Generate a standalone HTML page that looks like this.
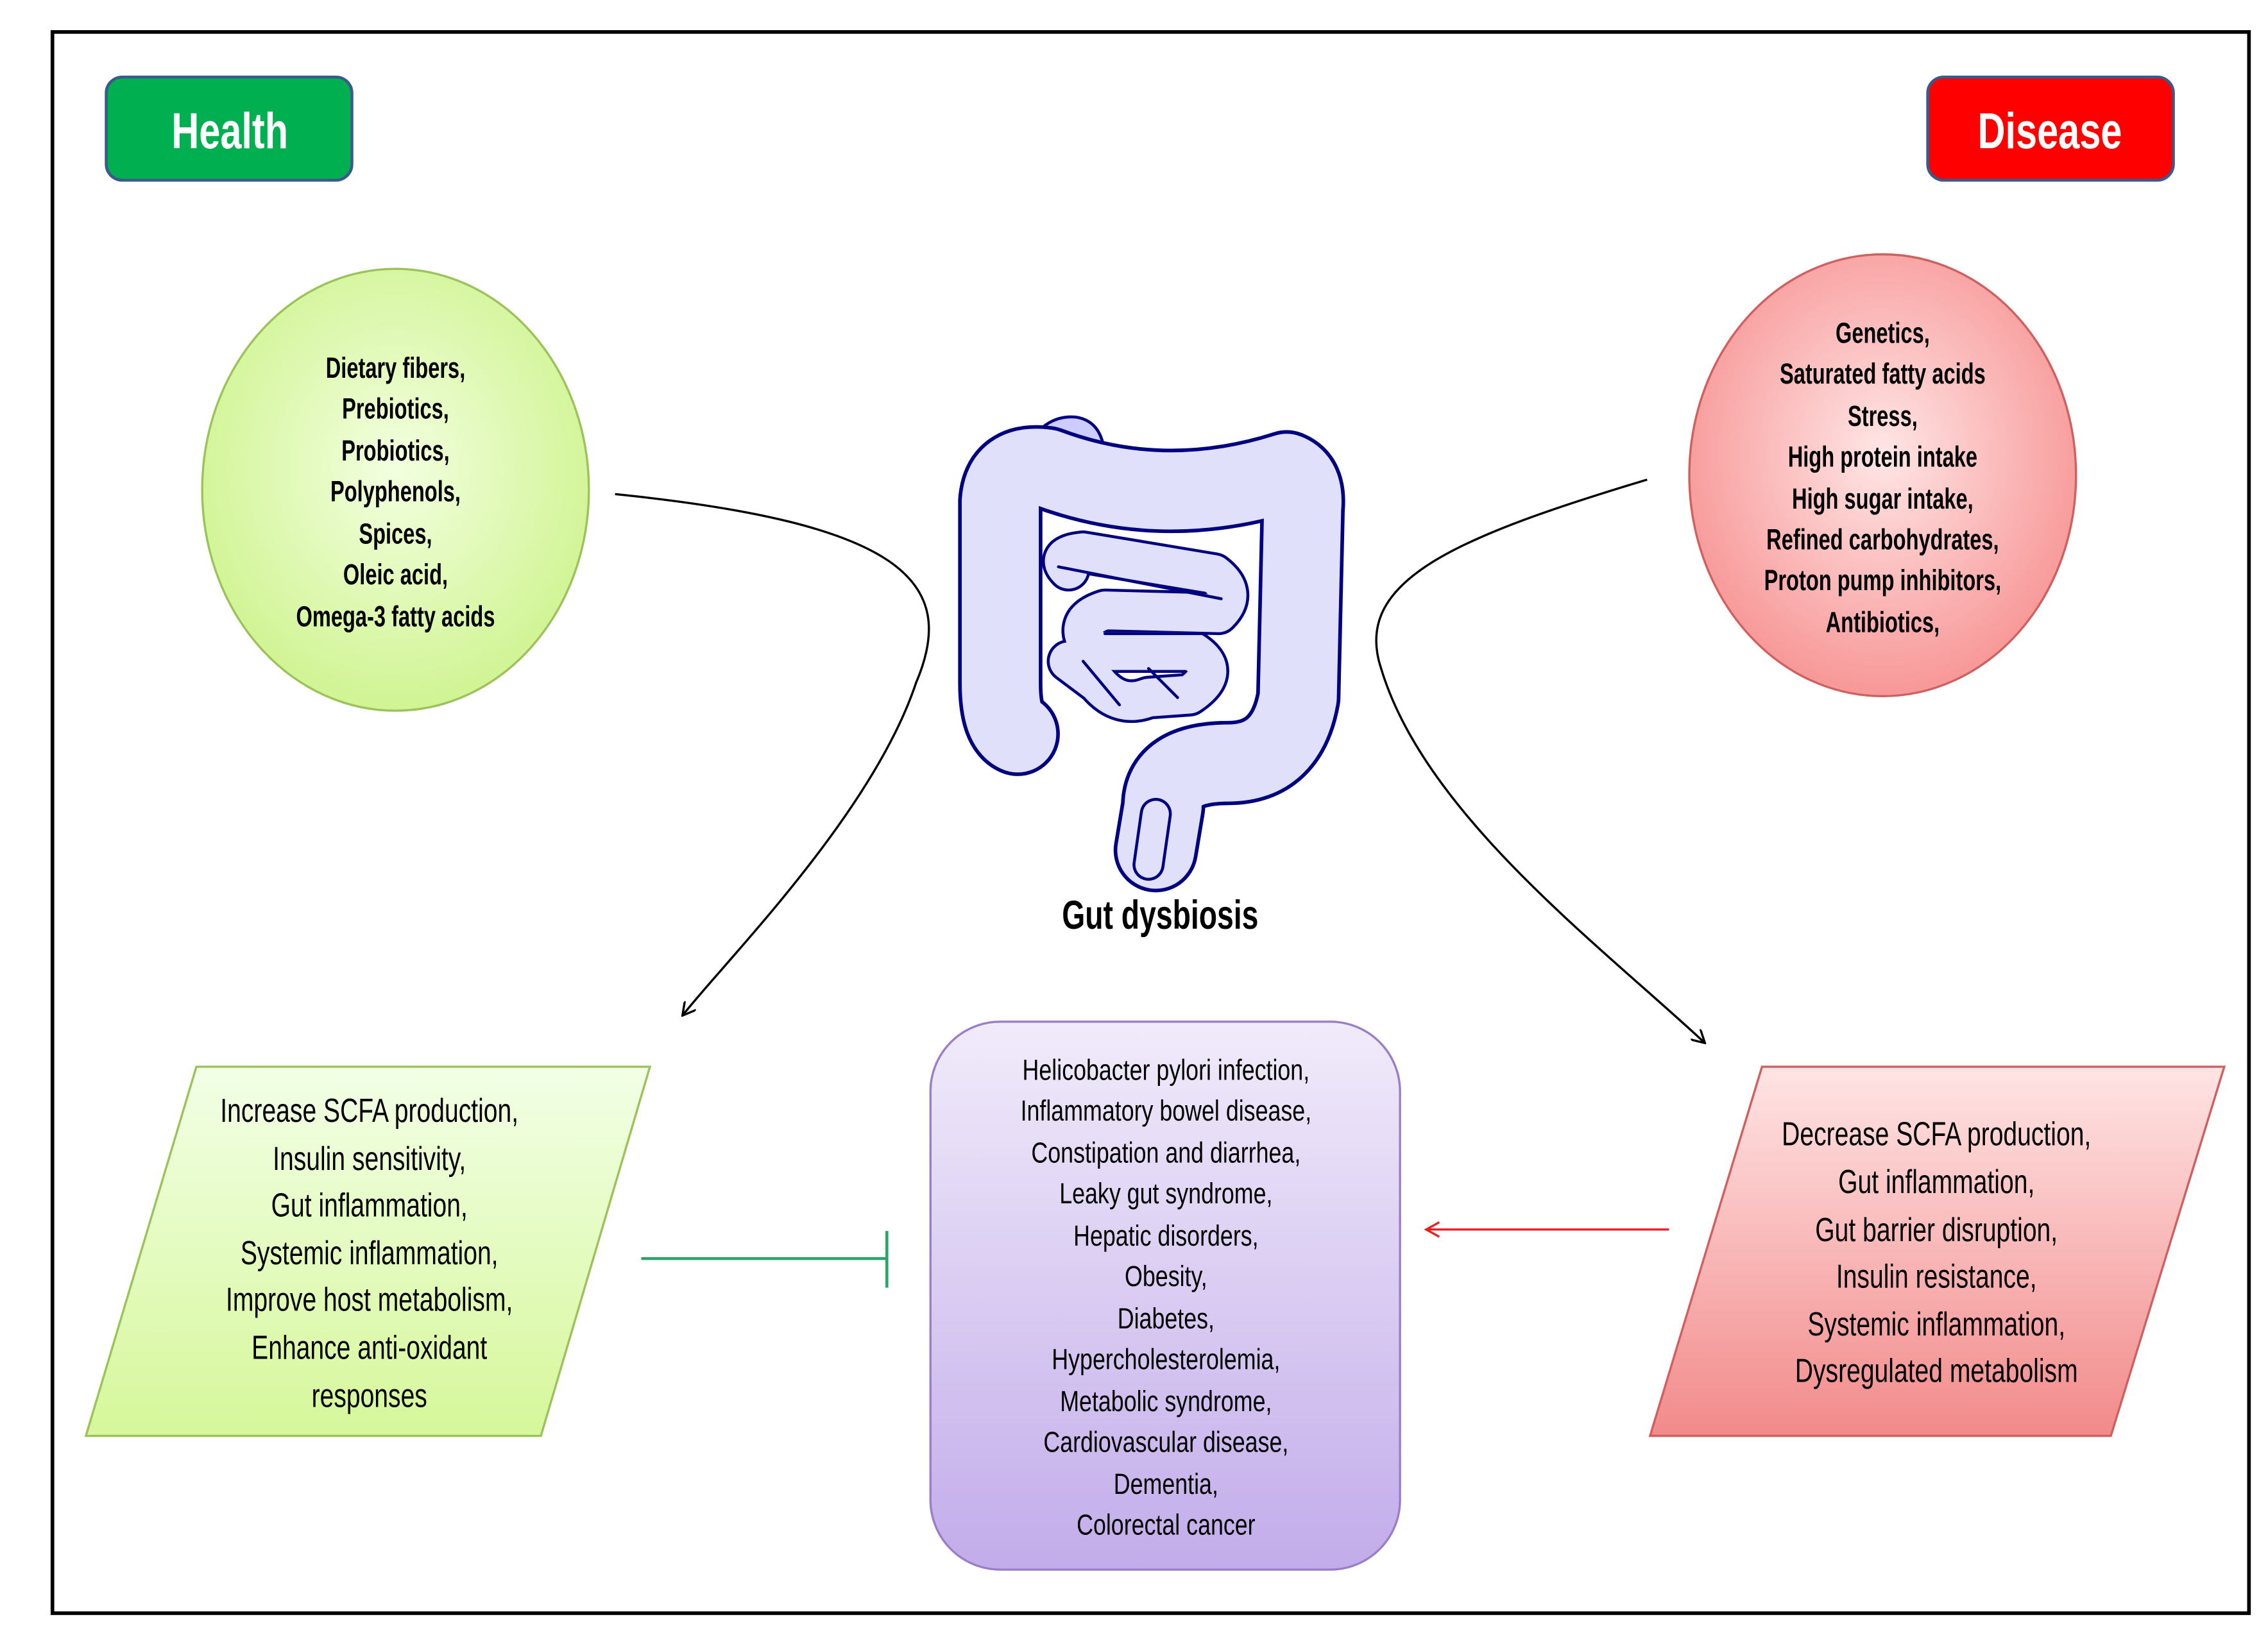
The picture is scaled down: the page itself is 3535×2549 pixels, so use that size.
<!DOCTYPE html>
<html><head><meta charset="utf-8"><style>
html,body{margin:0;padding:0;background:#fff;}
svg{display:block;}
text{font-family:"Liberation Sans Narrow","Liberation Sans",sans-serif;fill:#000;}
</style></head><body>
<svg width="3535" height="2549" viewBox="0 0 1560 1125" xmlns="http://www.w3.org/2000/svg">
<defs>
<radialGradient id="gEll" cx="50%" cy="45%" r="60%"><stop offset="0" stop-color="#f3ffe0"/><stop offset="1" stop-color="#cdf38c"/></radialGradient>
<radialGradient id="rEll" cx="50%" cy="45%" r="60%"><stop offset="0" stop-color="#ffe6e6"/><stop offset="1" stop-color="#f79090"/></radialGradient>
<linearGradient id="gPar" x1="0" y1="0" x2="0" y2="1"><stop offset="0" stop-color="#f2ffe6"/><stop offset="1" stop-color="#d6f79a"/></linearGradient>
<linearGradient id="rPar" x1="0" y1="0" x2="0" y2="1"><stop offset="0" stop-color="#ffe4e4"/><stop offset="1" stop-color="#f28a8a"/></linearGradient>
<linearGradient id="pBox" x1="0" y1="0" x2="0" y2="1"><stop offset="0" stop-color="#f1ebfa"/><stop offset="1" stop-color="#c2acea"/></linearGradient>
<marker id="ah" markerWidth="10" markerHeight="10" refX="8" refY="5" orient="auto" markerUnits="userSpaceOnUse"><path d="M0,0 L9,5 L0,10" fill="none" stroke="#000" stroke-width="1.5"/></marker>
<marker id="ahr" markerWidth="12" markerHeight="12" refX="10" refY="6" orient="auto" markerUnits="userSpaceOnUse"><path d="M1,1 L10,6 L1,11" fill="none" stroke="#e82020" stroke-width="1.5"/></marker>
</defs>
<rect x="36" y="22" width="1511" height="1088" fill="#fff" stroke="#000" stroke-width="2.5"/>

<rect x="73" y="53" width="169" height="71" rx="11" fill="#00b050" stroke="#3a5a8c" stroke-width="2"/>
<text transform="translate(158 102) scale(0.75 1)" text-anchor="middle" font-size="35" font-weight="bold" style="fill:#fff">Health</text>
<rect x="1326" y="53" width="169" height="71" rx="11" fill="#ff0000" stroke="#3a5a8c" stroke-width="2"/>
<text transform="translate(1410 102) scale(0.75 1)" text-anchor="middle" font-size="35" font-weight="bold" style="fill:#fff">Disease</text>

<ellipse cx="272" cy="337" rx="133" ry="152" fill="url(#gEll)" stroke="#9bc35a" stroke-width="1.5"/>
<g transform="translate(272 0) scale(0.72 1)" font-size="20" font-weight="bold" text-anchor="middle">
<text x="0" y="260">Dietary fibers,</text><text x="0" y="288">Prebiotics,</text><text x="0" y="317">Probiotics,</text><text x="0" y="345">Polyphenols,</text><text x="0" y="374">Spices,</text><text x="0" y="402">Oleic acid,</text><text x="0" y="431">Omega-3 fatty acids</text>
</g>

<ellipse cx="1295" cy="327" rx="133" ry="152" fill="url(#rEll)" stroke="#d06060" stroke-width="1.5"/>
<g transform="translate(1295 0) scale(0.72 1)" font-size="20" font-weight="bold" text-anchor="middle">
<text x="0" y="236">Genetics,</text><text x="0" y="264">Saturated fatty acids</text><text x="0" y="293">Stress,</text><text x="0" y="321">High protein intake</text><text x="0" y="350">High sugar intake,</text><text x="0" y="378">Refined carbohydrates,</text><text x="0" y="406">Proton pump inhibitors,</text><text x="0" y="435">Antibiotics,</text>
</g>

<!-- gut -->
<g stroke-linecap="round" stroke-linejoin="round" fill="none">
<path d="M760,318 Q760,290 740,287 Q718,285 705,310 L735,318 L740,300 Z" fill="#ccccff" stroke="#000080" stroke-width="2"/>
<path d="M700,505 Q688,500 688,470 L688,345 Q690,318 720,322 Q800,352 885,325 Q898,330 896,350 L893,480 Q885,525 845,525 Q800,525 800,555 L795,585" stroke="#000080" stroke-width="58"/>
<path d="M700,505 Q688,500 688,470 L688,345 Q690,318 720,322 Q800,352 885,325 Q898,330 896,350 L893,480 Q885,525 845,525 Q800,525 800,555 L795,585" stroke="#e0e0fa" stroke-width="53"/>
<path d="M790,595 L795,560" stroke="#000080" stroke-width="22"/>
<path d="M790,595 L795,560" stroke="#e0e0fa" stroke-width="18"/>
<path d="M735,392 Q725,382 745,380 L835,395 Q852,408 838,422 L760,420 Q735,428 752,448 L820,448 Q842,462 818,478 L790,480 Q770,488 755,470 L735,455" stroke="#000080" stroke-width="30"/>
<path d="M735,392 Q725,382 745,380 L835,395 Q852,408 838,422 L760,420 Q735,428 752,448 L820,448 Q842,462 818,478 L790,480 Q770,488 755,470 L735,455" stroke="#e0e0fa" stroke-width="26"/>
<path d="M728,390 L840,412 M760,436 L830,436 M745,455 L770,485 M790,460 L810,480" stroke="#000080" stroke-width="2"/>
</g>
<text transform="translate(798 639) scale(0.73 1)" text-anchor="middle" font-size="28" font-weight="bold">Gut dysbiosis</text>

<path d="M423,340 C620,360 660,400 630,470 C600,560 500,660 470,698" fill="none" stroke="#000" stroke-width="1.5" marker-end="url(#ah)"/>
<path d="M1133,330 C1000,370 930,400 950,460 C980,560 1100,650 1172,717" fill="none" stroke="#000" stroke-width="1.5" marker-end="url(#ah)"/>

<polygon points="135,734 447,734 372,988 59,988" fill="url(#gPar)" stroke="#9bc35a" stroke-width="1.5"/>
<g transform="translate(254 0) scale(0.75 1)" font-size="23" text-anchor="middle">
<text x="0" y="772">Increase SCFA production,</text><text x="0" y="805">Insulin sensitivity,</text><text x="0" y="837">Gut inflammation,</text><text x="0" y="870">Systemic inflammation,</text><text x="0" y="902">Improve host metabolism,</text><text x="0" y="935">Enhance anti-oxidant</text><text x="0" y="968">responses</text>
</g>

<polygon points="1212,734 1530,734 1452,988 1135,988" fill="url(#rPar)" stroke="#d06060" stroke-width="1.5"/>
<g transform="translate(1332 0) scale(0.75 1)" font-size="23" text-anchor="middle">
<text x="0" y="788">Decrease SCFA production,</text><text x="0" y="821">Gut inflammation,</text><text x="0" y="854">Gut barrier disruption,</text><text x="0" y="886">Insulin resistance,</text><text x="0" y="919">Systemic inflammation,</text><text x="0" y="951">Dysregulated metabolism</text>
</g>

<rect x="640" y="703" width="323" height="377" rx="48" fill="url(#pBox)" stroke="#9a7fc8" stroke-width="1.5"/>
<g transform="translate(802 0) scale(0.79 1)" font-size="20" text-anchor="middle">
<text x="0" y="743">Helicobacter pylori infection,</text><text x="0" y="771">Inflammatory bowel disease,</text><text x="0" y="800">Constipation and diarrhea,</text><text x="0" y="828">Leaky gut syndrome,</text><text x="0" y="857">Hepatic disorders,</text><text x="0" y="885">Obesity,</text><text x="0" y="914">Diabetes,</text><text x="0" y="942">Hypercholesterolemia,</text><text x="0" y="971">Metabolic syndrome,</text><text x="0" y="999">Cardiovascular disease,</text><text x="0" y="1028">Dementia,</text><text x="0" y="1056">Colorectal cancer</text>
</g>

<line x1="441" y1="866" x2="610" y2="866" stroke="#2aa36a" stroke-width="2"/>
<line x1="610" y1="847" x2="610" y2="886" stroke="#2aa36a" stroke-width="2"/>
<line x1="1148" y1="846" x2="981" y2="846" stroke="#e82020" stroke-width="1.5" marker-end="url(#ahr)"/>
</svg>
</body></html>
